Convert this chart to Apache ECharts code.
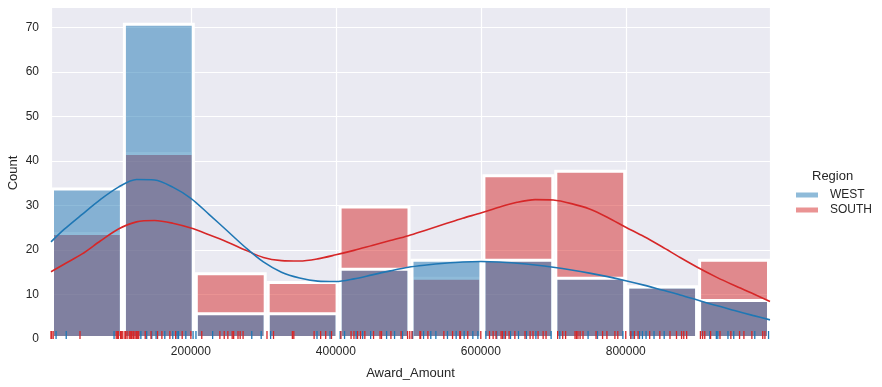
<!DOCTYPE html>
<html><head><meta charset="utf-8">
<script src="https://cdn.jsdelivr.net/npm/echarts@6/dist/echarts.min.js"></script>
<style>html,body{margin:0;padding:0;background:#fff}#c{width:882px;height:387px}</style>
</head><body><div id="c"></div>
<script>
const binLabels = ['b1','b2','b3','b4','b5','b6','b7','b8','b9','b10'];
const westCounts = [34, 71, 6, 6, 16, 18, 18, 14, 12, 9];
const southCounts = [24, 42, 15, 13, 30, 14, 37, 38, 12, 18];
const xMin = 7000, xMax = 999000, yMax = 74.55;
const xTicks = [200000, 400000, 600000, 800000];

const kdeX = [7000, 25000, 50000, 75000, 100000, 125000, 150000, 175000, 200000, 225000, 250000, 275000, 300000, 325000, 350000, 375000, 400000, 425000, 450000, 475000, 500000, 525000, 550000, 575000, 600000, 625000, 650000, 675000, 700000, 725000, 750000, 775000, 800000, 825000, 850000, 875000, 900000, 925000, 950000, 975000, 999000];
const westKdeY = [21.8, 24.6, 28.0, 31.3, 34.1, 35.8, 35.7, 34.1, 31.6, 28.0, 24.3, 20.6, 17.3, 15.0, 13.7, 13.0, 12.9, 13.5, 14.4, 15.3, 16.1, 16.6, 17.0, 17.3, 17.4, 17.3, 17.0, 16.6, 16.1, 15.5, 14.8, 14.0, 13.1, 12.1, 11.0, 9.9, 8.7, 7.5, 6.4, 5.3, 4.3];
const southKdeY = [15.1, 16.8, 19.1, 22.0, 24.7, 26.3, 26.6, 26.0, 24.9, 23.4, 21.8, 20.0, 18.3, 17.6, 17.5, 18.0, 18.9, 19.9, 21.0, 22.1, 23.2, 24.5, 25.8, 27.1, 28.3, 29.6, 30.7, 31.3, 31.2, 30.4, 29.2, 27.3, 25.1, 23.0, 20.7, 18.3, 16.0, 13.9, 12.0, 10.2, 8.4];

const westRug = [14000, 28000, 94000, 127000, 131000, 139000, 146000, 152000, 164000, 175000, 181000, 183000, 193000, 203000, 207000, 230000, 284000, 297000, 310000, 374000, 392000, 406000, 412000, 428000, 437000, 448000, 470000, 481000, 492000, 506000, 521000, 531000, 538000, 554000, 566000, 577000, 589000, 596000, 607000, 622000, 632000, 641000, 652000, 663000, 676000, 697000, 709000, 748000, 761000, 796000, 807000, 810000, 819000, 823000, 828000, 839000, 853000, 916000, 925000, 927000, 941000, 949000, 978000, 997000];
const southRug = [7000, 8000, 10000, 47000, 97000, 99000, 100000, 103000, 104000, 106000, 109000, 110000, 112000, 115000, 117000, 118000, 120000, 121000, 123000, 125000, 126000, 128000, 137000, 145000, 154000, 160000, 171000, 179000, 188000, 200000, 215000, 240000, 246000, 251000, 257000, 259000, 265000, 268000, 272000, 305000, 314000, 340000, 342000, 370000, 379000, 386000, 394000, 407000, 421000, 425000, 430000, 434000, 440000, 452000, 461000, 463000, 476000, 490000, 499000, 502000, 505000, 516000, 517000, 527000, 549000, 561000, 571000, 572000, 582000, 600000, 612000, 617000, 621000, 628000, 630000, 634000, 639000, 647000, 661000, 668000, 672000, 679000, 686000, 690000, 706000, 713000, 717000, 730000, 732000, 734000, 737000, 741000, 759000, 768000, 774000, 785000, 789000, 800000, 807000, 812000, 817000, 833000, 847000, 861000, 870000, 877000, 880000, 884000, 903000, 906000, 909000, 917000, 930000, 945000, 957000, 963000, 974000, 989000, 992000];

const BLUE = '#1f77b4', RED = '#d62728';
const FONT = "'Liberation Sans', Arial, sans-serif";
const TXT = '#262626';

const chart = echarts.init(document.getElementById('c'), null, {renderer: 'canvas'});
const zip = (a, b) => a.map((v, i) => [v, b[i]]);
const rugStyle = (c) => ({
  type: 'scatter', xAxisIndex: 0, yAxisIndex: 0, symbol: 'rect',
  symbolSize: [1.3, 8], symbolOffset: [0, -4],
  itemStyle: {color: c, opacity: 1}, emphasis: {disabled: true}, silent: true, z: 5
});

chart.setOption({
  animation: false,
  grid: {left: 51, right: 112, top: 7, bottom: 48, show: true, backgroundColor: '#eaeaf2', borderWidth: 0,
    containLabel: false, outerBoundsMode: 'none'},
  title: {text: 'Region', left: 812, top: 170, padding: 0, textStyle: {fontFamily: FONT, fontSize: 13, fontWeight: 'normal', color: TXT}},
  legend: {
    orient: 'vertical', left: 796, top: 188, itemWidth: 22, itemHeight: 5, itemGap: 1, padding: 0,
    selectedMode: false, icon: 'rect',
    textStyle: {fontFamily: FONT, fontSize: 12, color: TXT, lineHeight: 14, padding: [0, 0, 0, 7]},
    data: [
      {name: 'WEST', itemStyle: {color: 'rgba(31,119,180,0.5)', borderWidth: 0}},
      {name: 'SOUTH', itemStyle: {color: 'rgba(214,39,40,0.5)', borderWidth: 0}}
    ]
  },
  xAxis: [
    {
      type: 'value', min: xMin, max: xMax, splitNumber: 5,
      name: 'Award_Amount', nameLocation: 'middle', nameGap: 28, nameMoveOverlap: false,
      nameTextStyle: {fontFamily: FONT, fontSize: 13, color: TXT},
      axisLine: {show: false}, axisTick: {show: false},
      axisLabel: {fontFamily: FONT, fontSize: 12, color: TXT, margin: 7, showMinLabel: false, showMaxLabel: false,
        formatter: v => xTicks.includes(v) ? String(v) : ''},
      splitLine: {show: true, lineStyle: {color: '#ffffff', width: 1.2}}
    },
    {
      type: 'category', data: binLabels, boundaryGap: true, show: false, position: 'bottom'
    }
  ],
  yAxis: {
    type: 'value', min: 0, max: yMax, interval: 10,
    name: 'Count', nameLocation: 'middle', nameGap: 31, nameMoveOverlap: false,
    nameTextStyle: {fontFamily: FONT, fontSize: 13, color: TXT},
    axisLine: {show: false}, axisTick: {show: false},
    axisLabel: {fontFamily: FONT, fontSize: 12, color: TXT, margin: 12, showMaxLabel: false,
      formatter: v => (v % 10 === 0 ? String(v) : '')},
    splitLine: {show: true, lineStyle: {color: '#ffffff', width: 1.2}}
  },
  series: [
    {
      name: 'SOUTH', type: 'bar', xAxisIndex: 1, data: southCounts,
      barCategoryGap: 0, barGap: '-100%', silent: true,
      itemStyle: {color: 'rgba(214,39,40,0.5)', borderColor: '#ffffff', borderWidth: 3}
    },
    {
      name: 'WEST', type: 'bar', xAxisIndex: 1, data: westCounts,
      barCategoryGap: 0, barGap: '-100%', silent: true,
      itemStyle: {color: 'rgba(31,119,180,0.5)', borderColor: '#ffffff', borderWidth: 3}
    },
    {
      name: 'SOUTH kde', type: 'line', xAxisIndex: 0, data: zip(kdeX, southKdeY),
      smooth: 0.3, showSymbol: false, silent: true, lineStyle: {color: RED, width: 1.6}, z: 4
    },
    {
      name: 'WEST kde', type: 'line', xAxisIndex: 0, data: zip(kdeX, westKdeY),
      smooth: 0.3, showSymbol: false, silent: true, lineStyle: {color: BLUE, width: 1.6}, z: 4
    },
    Object.assign({name: 'WEST rug', data: westRug.map(v => [v, 0])}, rugStyle(BLUE)),
    Object.assign({name: 'SOUTH rug', data: southRug.map(v => [v, 0])}, rugStyle(RED))
  ]
});
</script>
</body></html>
